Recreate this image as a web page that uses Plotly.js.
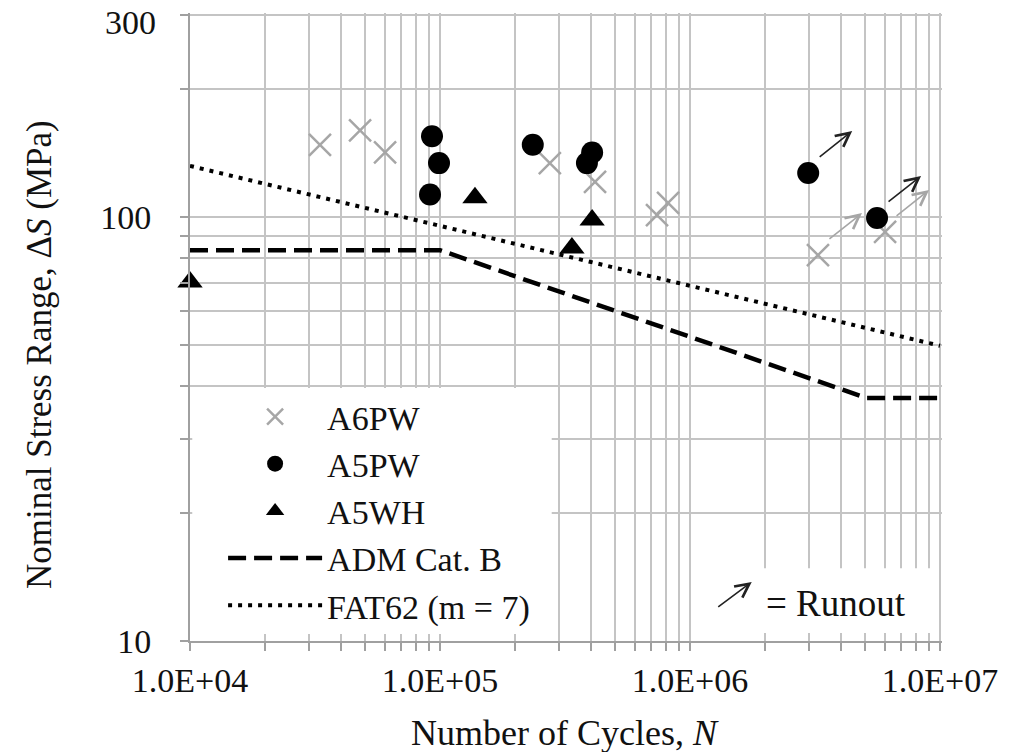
<!DOCTYPE html>
<html>
<head>
<meta charset="utf-8">
<script src="https://cdn.plot.ly/plotly-3.0.1.min.js"></script>
<style>html,body{margin:0;padding:0;background:#fff;}#chart{width:1015px;height:752px;}</style>
</head>
<body>
<div id="chart"></div>
<script>
// ---- data ----
const a6pwN = [33100, 47900, 60300, 275000, 417000, 738000, 817000, 3250000, 6030000];
const a6pwS = [148, 160, 142, 134, 121, 101, 108, 81.3, 92.2];
const a6pwRunout = [7, 8];

const a5pwN = [92900, 99100, 91200, 235000, 406000, 387000, 2970000, 5600000];
const a5pwS = [155, 134, 113, 148, 142, 134, 127, 99.5];
const a5pwRunout = [6, 7];

const a5whN = [10000, 138000, 406000, 337000];
const a5whS = [70.3, 111, 98.4, 84.5];

const admN = [1e4, 1e5, 5.1e6, 1e7];
const admS = [83.5, 83.5, 37.4, 37.4];

const fatN = [1e4, 1e7];
const fatS = [132, 49.7];

const xDecades = [1e4, 1e5, 1e6];
const xMajorLabels = ['1.0E+04', '1.0E+05', '1.0E+06', '1.0E+07'];
const xTickVals = [];
const xTickText = [];
xDecades.forEach(function (d, i) {
  for (let k = 1; k <= 9; k++) {
    xTickVals.push(k * d);
    xTickText.push(k === 1 ? xMajorLabels[i] : '');
  }
});
xTickVals.push(1e7); xTickText.push(xMajorLabels[3]);

const yTickVals = [10, 20, 30, 40, 50, 60, 70, 80, 90, 100, 200, 300];
const yTickText = ['10', '', '', '', '', '', '', '', '', '100', '', ''];
const yTopLabelVal = 300;
const yTopLabel = '300';

const xTitle = 'Number of Cycles, <i>N</i>';
const yTitle = 'Nominal Stress Range, Δ<i>S</i> (MPa)';
const runoutLabel = '= Runout';

// ---- chart ----
const FONT = 'Liberation Serif, Times New Roman, serif';
const GRID = '#c4c4c4';
const TXT = '#111';

const traces = [
  {x: a6pwN, y: a6pwS, name: 'A6PW', mode: 'markers', type: 'scatter', cliponaxis: false,
   marker: {symbol: 'x-thin', size: 22, line: {color: '#a6a6a6', width: 2.5}, color: '#a6a6a6'}},
  {x: a5pwN, y: a5pwS, name: 'A5PW', mode: 'markers', type: 'scatter', cliponaxis: false,
   marker: {symbol: 'circle', size: 22, color: '#000'}},
  {x: a5whN, y: a5whS, name: 'A5WH', mode: 'markers', type: 'scatter', cliponaxis: false,
   marker: {symbol: 'triangle-up', size: 22, color: '#000'}},
  {x: admN, y: admS, name: 'ADM Cat. B', mode: 'lines', type: 'scatter',
   line: {color: '#000', width: 4.5, dash: '18px,8px'}},
  {x: fatN, y: fatS, name: 'FAT62 (m = 7)', mode: 'lines', type: 'scatter',
   line: {color: '#000', width: 4, dash: '4px,6px'}}
];

const annotations = [];
function runoutArrow(n, s, color) {
  annotations.push({
    x: Math.log10(n), y: Math.log10(s), xref: 'x', yref: 'y',
    text: '', showarrow: true, arrowhead: 5, arrowsize: 1.7, arrowwidth: 1.6,
    arrowcolor: color, ax: -34, ay: 27, xshift: 44, yshift: 42, standoff: 0
  });
}
a6pwRunout.forEach(function (i) { runoutArrow(a6pwN[i], a6pwS[i], '#a6a6a6'); });
a5pwRunout.forEach(function (i) { runoutArrow(a5pwN[i], a5pwS[i], '#222'); });

// runout key
annotations.push({x: 0.747, y: 0.094, xref: 'paper', yref: 'paper', text: '', showarrow: true,
  arrowhead: 5, arrowsize: 1.7, arrowwidth: 1.6, arrowcolor: '#222', ax: -35, ay: 26, standoff: 0});
annotations.push({x: 0.763, y: 0.0605, xref: 'paper', yref: 'paper', text: runoutLabel, showarrow: false,
  xanchor: 'left', yanchor: 'middle', font: {family: FONT, size: 37, color: TXT}});

// top y label (sits slightly below its tick, as in the reference)
annotations.push({x: -0.043, y: Math.log10(yTopLabelVal), xref: 'paper', yref: 'y', text: yTopLabel,
  showarrow: false, xanchor: 'right', yanchor: 'middle', yshift: -8,
  font: {family: FONT, size: 34, color: TXT}});

// axis titles
annotations.push({x: 0.4987, y: -0.1465, xref: 'paper', yref: 'paper', text: xTitle, showarrow: false,
  xanchor: 'center', yanchor: 'middle', font: {family: FONT, size: 36, color: TXT}});
annotations.push({x: -0.2008, y: 0.457, xref: 'paper', yref: 'paper', text: yTitle, showarrow: false,
  textangle: -90, xanchor: 'center', yanchor: 'middle', font: {family: FONT, size: 35, color: TXT}});

const layout = {
  width: 1015, height: 752,
  margin: {l: 190, r: 73, t: 13, b: 111},
  paper_bgcolor: '#fff', plot_bgcolor: '#fff',
  font: {family: FONT, size: 34, color: TXT},
  showlegend: true,
  legend: {x: 0.044, y: 0.403, xanchor: 'left', yanchor: 'top', bgcolor: '#fff',
    borderwidth: 0, itemwidth: 94, font: {family: FONT, size: 34, color: TXT}},
  xaxis: {type: 'log', range: [4, 7.008], tickmode: 'array', tickvals: xTickVals, ticktext: xTickText,
    showgrid: true, gridcolor: GRID, gridwidth: 2, showline: true, linecolor: '#a0a0a0', linewidth: 2,
    ticks: 'outside', ticklen: 8, tickcolor: '#a0a0a0', tickwidth: 2, zeroline: false,
    ticklabeloverflow: 'allow',
    tickfont: {family: FONT, size: 34, color: TXT}},
  yaxis: {type: 'log', range: [1, Math.log10(300) + 0.004], tickmode: 'array', tickvals: yTickVals, ticktext: yTickText,
    showgrid: true, gridcolor: GRID, gridwidth: 2, showline: true, linecolor: '#a0a0a0', linewidth: 2,
    ticks: 'outside', ticklen: 8, tickcolor: '#a0a0a0', tickwidth: 2, zeroline: false,
    ticklabelstandoff: 22, ticklabeloverflow: 'allow',
    tickfont: {family: FONT, size: 34, color: TXT}},
  shapes: [
    {type: 'rect', xref: 'paper', yref: 'paper', x0: 0.685, x1: 0.995, y0: 0.0127, y1: 0.116,
     fillcolor: '#fff', line: {width: 0}, layer: 'above'},
    {type: 'rect', xref: 'paper', yref: 'paper', x0: 0.003, x1: 0.481, y0: 0.030, y1: 0.403,
     fillcolor: '#fff', line: {width: 0}, layer: 'above'}
  ],
  annotations: annotations
};

Plotly.newPlot('chart', traces, layout, {displayModeBar: false, staticPlot: true});
</script>
</body>
</html>
